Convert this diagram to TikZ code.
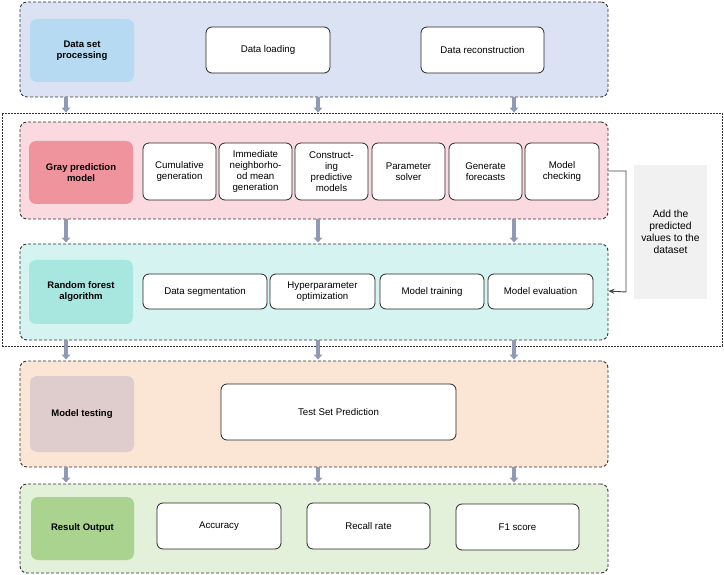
\documentclass[tikz,border=0pt]{standalone}
\usepackage{fontspec}
\setmainfont{Liberation Sans}
\usetikzlibrary{arrows.meta,calc}
\definecolor{pblue}{HTML}{DAE2F4}
\definecolor{lblue}{HTML}{B6DAF2}
\definecolor{ppink}{HTML}{FADAE0}
\definecolor{lpink}{HTML}{EF949D}
\definecolor{pcyan}{HTML}{D4F3F1}
\definecolor{lcyan}{HTML}{A8E6E0}
\definecolor{porange}{HTML}{FBE5D5}
\definecolor{lrose}{HTML}{DFCCCD}
\definecolor{pgreen}{HTML}{E3F0DA}
\definecolor{lgreen}{HTML}{A9D38E}
\definecolor{gbox}{HTML}{F1F1F1}
\definecolor{arrc}{HTML}{8E9AB6}
\tikzset{
  panel/.style={draw=black!80, dashed, dash pattern=on 3pt off 2pt, line width=0.9pt, rounded corners=7pt},
  lab/.style={rounded corners=7pt, font=\fontsize{9.5}{11}\selectfont\bfseries, align=center, inner sep=0pt},
  wbox/.style={draw=black!85, fill=white, line width=0.8pt, rounded corners=6pt, font=\fontsize{9.7}{11}\selectfont, align=center, inner sep=1pt},
  bigarrow/.style={draw=arrc, line width=3.5pt, -{Triangle[width=8.5pt,length=5pt]}, shorten >=0pt},
  thin/.style={draw=black!75, line width=0.9pt, -{Stealth[length=6pt,width=5pt]}},
}
\begin{document}
\begin{tikzpicture}[x=1pt,y=-1pt]
\useasboundingbox (0,0) rectangle (724,575);
% outer dashed frame
\node[draw=black!80, dashed, dash pattern=on 2pt off 1pt, line width=0.7pt, minimum width=720pt, minimum height=233pt, inner sep=0pt] (outer) at (362,229.5) {};
% panels
\node[panel, fill=pblue, minimum width=588pt, minimum height=95pt, inner sep=0pt] (p1) at (314,49.5) {};
\node[panel, fill=ppink, minimum width=588pt, minimum height=97pt, inner sep=0pt] (p2) at (314,170.5) {};
\node[panel, fill=pcyan, minimum width=588pt, minimum height=96pt, inner sep=0pt] (p3) at (314,292) {};
\node[panel, fill=porange, minimum width=588pt, minimum height=106pt, inner sep=0pt] (p4) at (314,414) {};
\node[panel, fill=pgreen, minimum width=588pt, minimum height=89pt, inner sep=0pt] (p5) at (314,528.5) {};
% labels
\node[lab, fill=lblue, minimum width=104pt, minimum height=63pt] (l1) at (82,50.5) {Data set\\processing};
\node[lab, fill=lpink, minimum width=104pt, minimum height=63pt] (l2) at (81,172.5) {Gray prediction\\model};
\node[lab, fill=lcyan, minimum width=104pt, minimum height=64pt] (l3) at (81,292) {Random forest\\algorithm};
\node[lab, fill=lrose, minimum width=104pt, minimum height=76pt] (l4) at (82,414) {Model testing};
\node[lab, fill=lgreen, minimum width=103pt, minimum height=63pt] (l5) at (82.5,528.5) {Result Output};
% row 1
\node[wbox, minimum width=124pt, minimum height=46pt] (b11) at (268,50) {Data loading};
\node[wbox, minimum width=123pt, minimum height=46pt] (b12) at (482.5,50) {Data reconstruction};
% row 2
\node[wbox, minimum width=73pt, minimum height=57pt] (b21) at (179.5,171.5) {Cumulative\\generation};
\node[wbox, minimum width=73pt, minimum height=57pt] (b22) at (255.5,171.5) {Immediate\\neighborho-\\od mean\\generation};
\node[wbox, minimum width=73pt, minimum height=57pt] (b23) at (331.5,171.5) {Construct-\\ing\\predictive\\models};
\node[wbox, minimum width=73pt, minimum height=57pt] (b24) at (408.5,171.5) {Parameter\\solver};
\node[wbox, minimum width=73pt, minimum height=57pt] (b25) at (485.5,171.5) {Generate\\forecasts};
\node[wbox, minimum width=74pt, minimum height=57pt] (b26) at (562,171.5) {Model\\checking};
% row 3
\node[wbox, minimum width=124pt, minimum height=35pt] (b31) at (205,291.5) {Data segmentation};
\node[wbox, minimum width=105pt, minimum height=35pt] (b32) at (322.5,291.5) {Hyperparameter\\optimization};
\node[wbox, minimum width=104pt, minimum height=35pt] (b33) at (432,291.5) {Model training};
\node[wbox, minimum width=105pt, minimum height=35pt] (b34) at (540.5,291.5) {Model evaluation};
% row 4
\node[wbox, minimum width=235pt, minimum height=56pt] (b41) at (338.5,412) {Test Set Prediction};
% row 5
\node[wbox, minimum width=124pt, minimum height=46pt] (b51) at (219,526) {Accuracy};
\node[wbox, minimum width=123pt, minimum height=46pt] (b52) at (368.5,526) {Recall rate};
\node[wbox, minimum width=123pt, minimum height=46pt] (b53) at (517.5,527) {F1 score};
% side note
\node[fill=gbox, minimum width=73pt, minimum height=134pt, inner sep=0pt, align=center, font=\fontsize{10.3}{11.8}\selectfont] (note) at (670.5,232) {Add the\\predicted\\values to the\\dataset};
% feedback connector
\coordinate (fb) at (626,0);
\draw[thin] ($(p2.east)+(0,0.5)$) -| (fb |- p3.east) -- ($(p3.east)+(0,-1)$);
% arrow x positions
\coordinate (a1) at (66,0);
\coordinate (a2) at (318,0);
\coordinate (a3) at (514,0);
\foreach \a in {a1,a2,a3}{
  \draw[bigarrow] (p1.south -| \a) -- (outer.north -| \a);
  \draw[bigarrow] (p2.south -| \a) -- ($(p3.north -| \a)+(0,-1)$);
  \draw[bigarrow] (p3.south -| \a) -- ($(p4.north -| \a)+(0,-1)$);
  \draw[bigarrow] (p4.south -| \a) -- ($(p5.north -| \a)+(0,-1)$);
}
\end{tikzpicture}
\end{document}
